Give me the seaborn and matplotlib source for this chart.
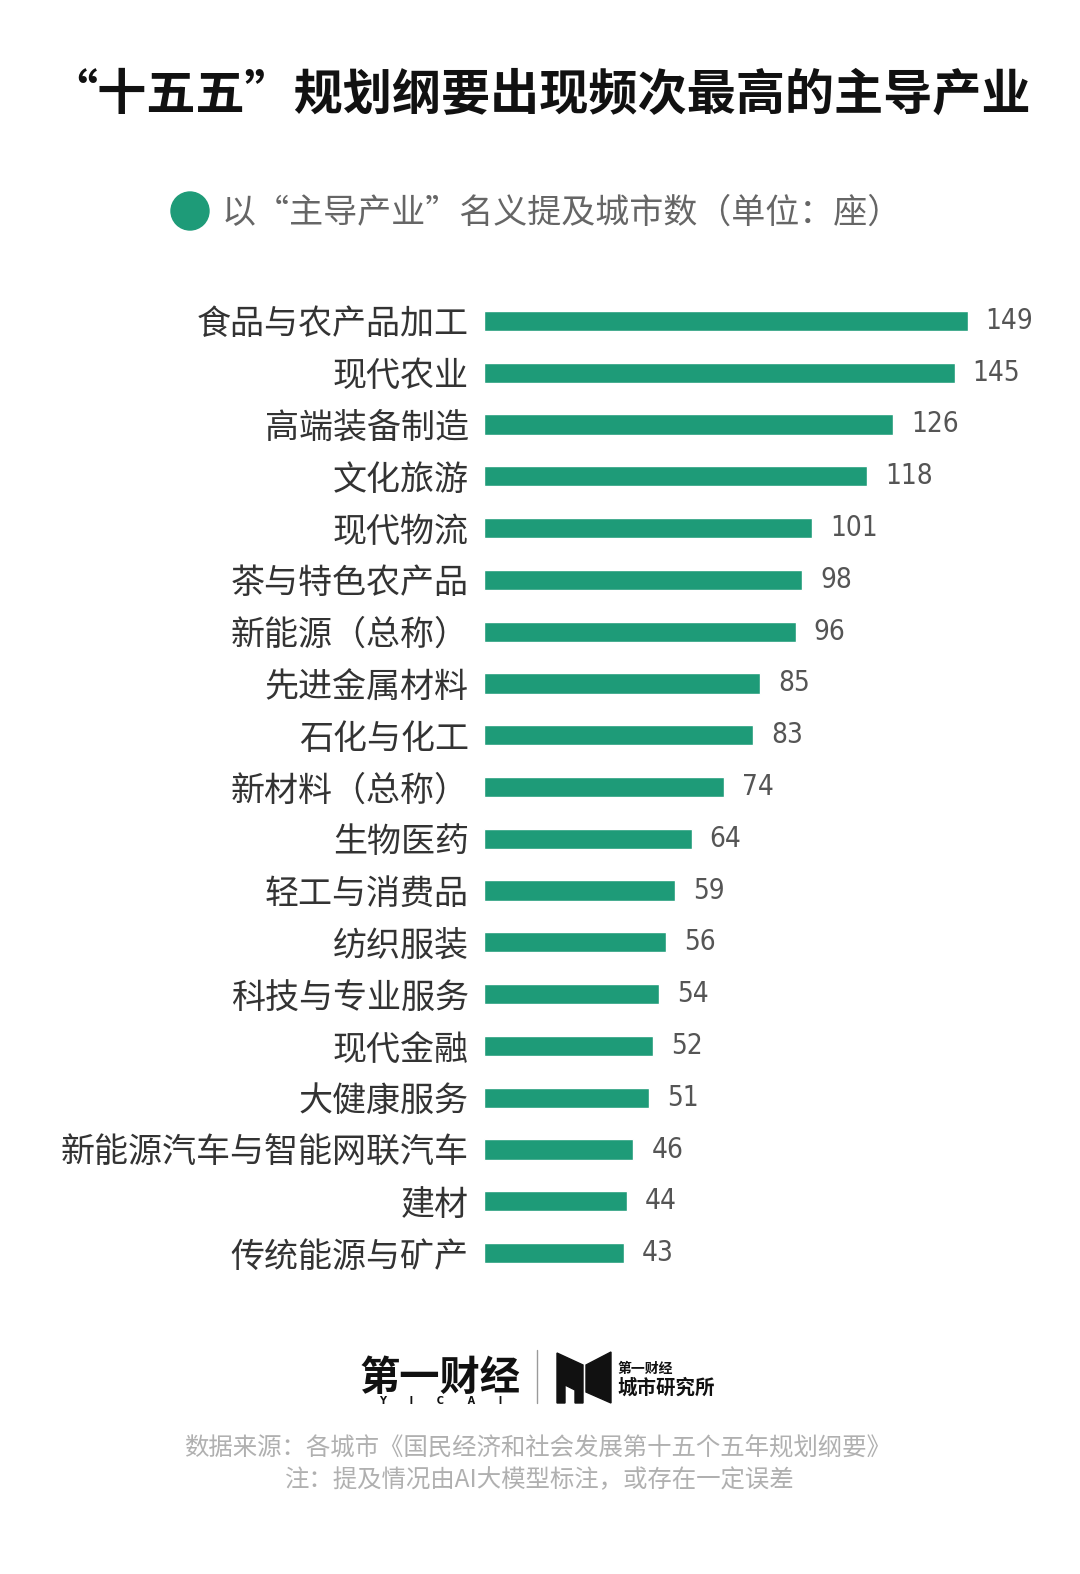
import matplotlib
matplotlib.use('Agg')
import matplotlib.pyplot as plt
import seaborn as sns
import pandas as pd
from matplotlib.patches import Polygon, Ellipse
from matplotlib.lines import Line2D

categories = ['食品与农产品加工', '现代农业', '高端装备制造', '文化旅游', '现代物流',
              '茶与特色农产品', '新能源（总称）', '先进金属材料', '石化与化工', '新材料（总称）',
              '生物医药', '轻工与消费品', '纺织服装', '科技与专业服务', '现代金融',
              '大健康服务', '新能源汽车与智能网联汽车', '建材', '传统能源与矿产']
values = [149, 145, 126, 118, 101, 98, 96, 85, 83, 74, 64, 59, 56, 54, 52, 51, 46, 44, 43]

title = '“十五五”规划纲要出现频次最高的主导产业'
legend_label = '以“主导产业”名义提及城市数（单位：座）'
source_lines = ['数据来源：各城市《国民经济和社会发展第十五个五年规划纲要》',
                '注：提及情况由AI大模型标注，或存在一定误差']

GREEN = '#1e9b78'
W, H = 1080, 1574

sns.set_theme(style='white')
plt.rcParams['font.family'] = ['Noto Sans CJK SC', 'DejaVu Sans']

fig = plt.figure(figsize=(W / 100, H / 100), dpi=100)
fig.patch.set_facecolor('white')

ax = fig.add_axes([484 / W, 1 - 1279 / H, 556 / W, 984 / H])
df = pd.DataFrame({'industry': categories, 'count': values})
sns.barplot(data=df, y='industry', x='count', color=GREEN, saturation=1,
            width=0.39, ax=ax, orient='h')
ax.set_xlim(0, 556 / 3.245)
ax.set_ylim(len(categories) - 0.5, -0.5)
ax.set_xlabel('')
ax.set_ylabel('')
ax.set_xticks([])
for s in ax.spines.values():
    s.set_visible(False)
ax.tick_params(axis='y', length=0, pad=11, labelsize=24.5, labelcolor='#333333')
ax.set_facecolor('none')
ax.bar_label(ax.containers[0], padding=13, fontsize=20, color='#555555',
             family=['DejaVu Sans'], fontstretch='condensed')

# overlay in pixel coordinates
ov = fig.add_axes([0, 0, 1, 1])
ov.set_xlim(0, W)
ov.set_ylim(H, 0)
ov.axis('off')
ov.patch.set_alpha(0)

ov.text(540, 95, title, fontsize=35.4, fontweight='bold', color='#111111',
        ha='center', va='center')

ov.add_patch(Ellipse((190, 211), 38, 38, color=GREEN))
ov.text(222, 213, legend_label, fontsize=24.5, color='#666666', ha='left', va='center')

# logo
ov.text(440, 1378, '第一财经', fontsize=29, fontweight='bold', color='#111111',
        ha='center', va='center')
ov.text(441, 1401, 'Y       I       C       A       I', fontsize=7, fontweight='bold',
        color='#111111', ha='center', va='center', family=['DejaVu Sans'])
ov.add_line(Line2D([537, 537], [1350, 1403], color='#9a9a9a', lw=1))
ov.add_patch(Polygon([[557, 1353], [583, 1365], [583, 1403], [575, 1403], [575, 1390],
                      [565, 1385], [565, 1403], [557, 1403]], closed=True, color='#111111'))
ov.add_patch(Polygon([[586, 1365], [611, 1352], [611, 1403], [586, 1392]],
                     closed=True, color='#111111'))
ov.text(618, 1369, '第一财经', fontsize=10, fontweight='bold', color='#111111',
        ha='left', va='center')
ov.text(617, 1388, '城市研究所', fontsize=14, fontweight='bold', color='#111111',
        ha='left', va='center')

ov.text(537, 1448, source_lines[0], fontsize=17.6, color='#b0b0b0', ha='center', va='center')
ov.text(540, 1480, source_lines[1], fontsize=17.6, color='#b0b0b0', ha='center', va='center')

fig.savefig('out.png', dpi=100, facecolor='white')
